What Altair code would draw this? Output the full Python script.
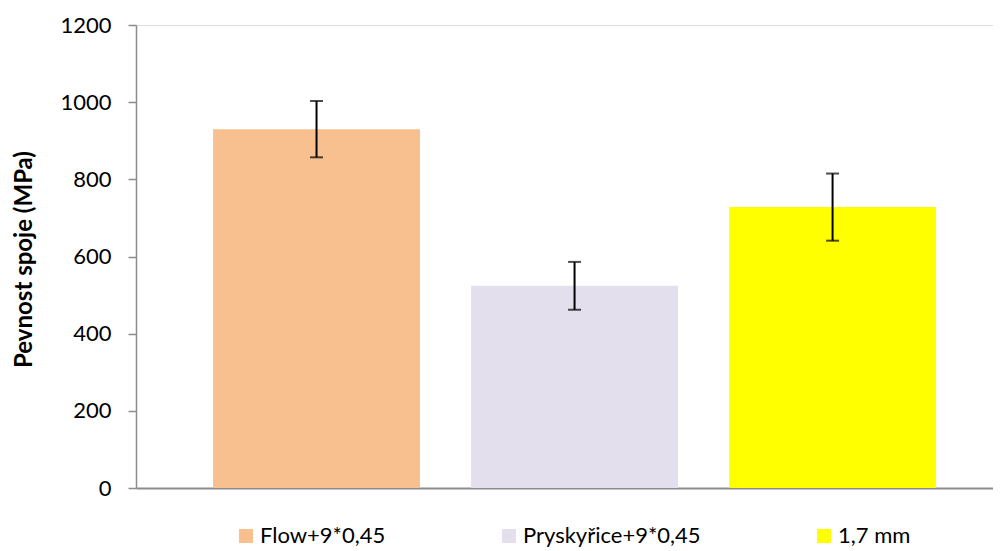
import altair as alt
import pandas as pd

categories = ["Flow+9*0,45", "Pryskyřice+9*0,45", "1,7 mm"]
values = [930, 524, 728]
errors = [73, 62, 87]
colors = ["#F9C08F", "#E4DFEC", "#FFFF00"]

df = pd.DataFrame({"cat": categories, "val": values, "err": errors})
df["lo"] = df["val"] - df["err"]
df["hi"] = df["val"] + df["err"]

FONT = "Lato"

xscale = alt.Scale(domain=categories, paddingInner=0.198, paddingOuter=0.2597, align=0.575)
xenc = alt.X("cat:N", scale=xscale, sort=categories,
             axis=alt.Axis(labels=False, ticks=False, title=None, domainColor="#8C8C8C", domainWidth=1.8))
yscale = alt.Scale(domain=[0, 1200])
yaxis = alt.Axis(values=[0, 200, 400, 600, 800, 1000, 1200], grid=False, format="d",
                 title="Pevnost spoje (MPa)", titleFont=FONT, titleFontSize=24, titleFontWeight="bold",
                 titleColor="#000000", titleAngle=270, titleX=-112, titleY=234,
                 titleAlign="center", titleBaseline="middle",
                 labelFont=FONT, labelFontSize=22, labelColor="#000000", labelPadding=17,
                 tickSize=8, tickColor="#8C8C8C", tickWidth=1.5,
                 domainColor="#8C8C8C", domainWidth=1.5)

bars = alt.Chart(df).mark_bar().encode(
    x=xenc,
    y=alt.Y("val:Q", scale=yscale, axis=yaxis),
    color=alt.Color("cat:N", scale=alt.Scale(domain=categories, range=colors), sort=categories,
                    legend=alt.Legend(title=None, orient="none", direction="horizontal",
                                      legendX=99, legendY=500, padding=0,
                                      symbolType="square", symbolSize=196, symbolStrokeWidth=0,
                                      labelFont=FONT, labelFontSize=22, labelColor="#000000",
                                      labelLimit=400, labelOffset=3, columnPadding=112)),
)

rules = alt.Chart(df).mark_rule(color="black", strokeWidth=2).encode(
    x=alt.X("cat:N", scale=xscale, sort=categories),
    y=alt.Y("lo:Q", scale=yscale),
    y2="hi:Q",
)
caps_lo = alt.Chart(df).mark_tick(color="black", size=13, thickness=2).encode(
    x=alt.X("cat:N", scale=xscale, sort=categories),
    y=alt.Y("lo:Q", scale=yscale),
)
caps_hi = alt.Chart(df).mark_tick(color="black", size=13, thickness=2).encode(
    x=alt.X("cat:N", scale=xscale, sort=categories),
    y=alt.Y("hi:Q", scale=yscale),
)

chart = alt.layer(bars, rules, caps_lo, caps_hi).properties(
    width=857, height=463,
    autosize=alt.AutoSizeParams(type="none"),
    padding={"left": 128, "top": 17, "right": 0, "bottom": 63},
).configure_view(stroke=None).configure(background="white")

chart.save("out.html", embed_options={"renderer": "svg", "actions": False})
